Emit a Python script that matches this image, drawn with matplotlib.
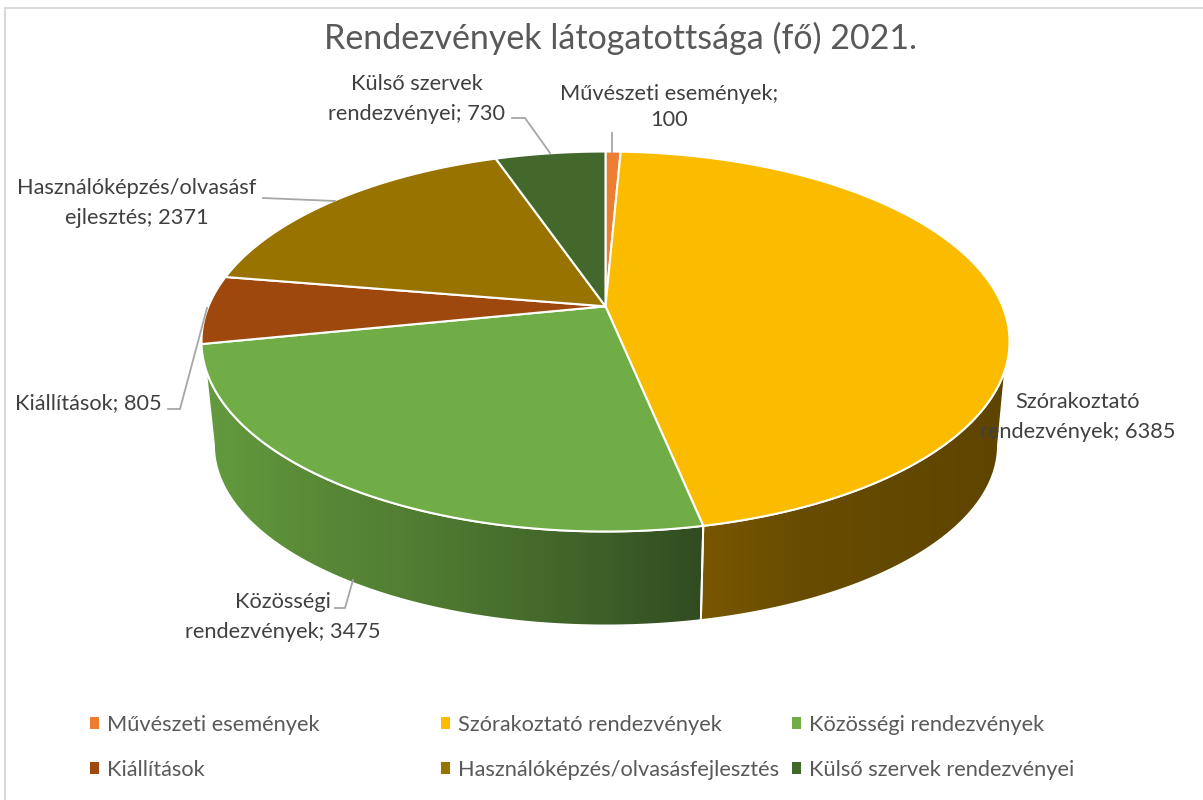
import numpy as np
import matplotlib
matplotlib.use("Agg")
import matplotlib.pyplot as plt
from matplotlib.patches import Polygon, Patch

plt.rcParams['font.family'] = ['Lato', 'DejaVu Sans']

categories = ["Művészeti események", "Szórakoztató rendezvények", "Közösségi rendezvények",
              "Kiállítások", "Használóképzés/olvasásfejlesztés", "Külső szervek rendezvényei"]
values = [100, 6385, 3475, 805, 2371, 730]
colors = ["#ED7D31", "#FBBC00", "#70AD47", "#9E480E", "#997300", "#43682B"]
title = "Rendezvények látogatottsága (fő) 2021."

W, H = 1203, 800
fig = plt.figure(figsize=(W / 100, H / 100), dpi=100, facecolor="white")
ax = fig.add_axes([0, 0, 1, 1])
ax.set_axis_off()

# perspective ellipse geometry (pixels)
TOP = dict(cx=605.5, cy=341.5, rx=404.0, ry=190.0)
BOT = dict(cx=606.0, cy=445.5, rx=392.0, ry=180.0)
T = 0.185  # shift of the apex inside the ellipse


def project(theta_deg, e):
    th = np.radians(theta_deg)
    c, s = np.cos(th), np.sin(th)
    d = 1 + T * c
    xn = s * np.sqrt(1 - T ** 2) / d
    yn = (c + T) / d
    return np.column_stack([e["cx"] + e["rx"] * xn, e["cy"] - e["ry"] * yn])


def arc(a, b, e):
    return project(np.linspace(a, b, max(int(abs(b - a) * 4), 2)), e)


apex = np.array([[TOP["cx"], TOP["cy"] - TOP["ry"] * T]])
bounds = np.concatenate([[0], np.cumsum(values)]) / sum(values) * 360.0


def theta_from_y(y):
    return np.degrees(np.arccos((y - T) / (1 - T * y)))


# visible front part of the side wall
up_r = float(theta_from_y(-0.143))
lo_r = float(theta_from_y(0.0))
up_l, lo_l = 360 - up_r, 360 - lo_r

side_stops = {
    1: ([705, 800, 1010], [(120, 87, 0), (104, 76, 0), (94, 68, 0)]),
    2: ([205, 300, 450, 600, 705], [(100, 155, 63), (90, 140, 56), (78, 120, 48), (62, 96, 40), (48, 75, 33)]),
}
for i, (xs, cols) in side_stops.items():
    a, b = bounds[i], bounds[i + 1]
    ua, ub = max(a, up_r), min(b, up_l)
    la = lo_r if a <= up_r else a
    lb = lo_l if b >= up_l else b
    if ub <= ua:
        continue
    pts = np.vstack([arc(ua, ub, TOP), arc(lb, la, BOT)])
    poly = Polygon(pts, closed=True, facecolor="none", edgecolor="none", transform=ax.transData)
    ax.add_patch(poly)
    xx = np.arange(xs[0] - 10, xs[-1] + 11)
    rgb = np.stack([np.interp(xx, xs, [c[k] for c in cols]) for k in range(3)], axis=-1)[None, :, :] / 255.0
    im = ax.imshow(rgb, extent=[xx[0], xx[-1], 640, 340], aspect="auto", interpolation="bilinear", zorder=1)
    im.set_clip_path(poly)
    ax.add_patch(Polygon(pts, closed=True, facecolor="none", edgecolor="white", lw=1.4, zorder=2))

for i, v in enumerate(values):
    pts = np.vstack([apex, arc(bounds[i], bounds[i + 1], TOP)])
    ax.add_patch(Polygon(pts, closed=True, facecolor=colors[i], edgecolor="white", lw=1.5,
                         joinstyle="round", zorder=3))

ax.set_xlim(0, W)
ax.set_ylim(H, 0)

# chart frame
ax.plot([5, 5, W], [H, 8, 8], color="#d9d9d9", lw=1.5, zorder=0, solid_joinstyle="miter")

ax.text(620.5, 38, title, fontsize=24.5, color="#595959", ha="center", va="center", zorder=6)

# data labels
label_lines = [
    ["Művészeti események;", str(values[0])],
    ["Szórakoztató", f"rendezvények; {values[1]}"],
    ["Közösségi", f"rendezvények; {values[2]}"],
    [f"Kiállítások; {values[3]}"],
    ["Használóképzés/olvasásf", f"ejlesztés; {values[4]}"],
    ["Külső szervek", f"rendezvényei; {values[5]}"],
]
label_pos = [(669, [93.5, 120.5]), (1078, [402, 431.5]), (283, [602, 631.5]),
             (88, [403.5]), (137, [188.5, 217.5]), (417, [84.5, 113.5])]
for lines, (x, ys) in zip(label_lines, label_pos):
    for s, y in zip(lines, ys):
        ax.text(x, y, s, fontsize=15.7, color="#404040", ha="center", va="center", zorder=6)

# leader lines
leaders = [
    ([612, 612], [133, 152]),
    ([512, 525, 550], [118, 118, 153]),
    ([263, 335], [198, 201]),
    ([168, 180, 207], [409, 409, 308]),
    ([335, 345, 353], [608, 608, 580]),
]
for xs, ys in leaders:
    ax.plot(xs, ys, color="#a6a6a6", lw=1.3, zorder=5, solid_joinstyle="miter")

# legend: three columns with two rows each
handles = [Patch(facecolor=c, edgecolor="none") for c in colors]
for col, x_left in enumerate([90, 441, 792]):
    idx = [col, col + 3]
    fig.legend([handles[j] for j in idx], [categories[j] for j in idx],
               loc="upper left", bbox_to_anchor=(x_left / W, 1 - 715 / H),
               bbox_transform=fig.transFigure, frameon=False, borderpad=0, borderaxespad=0,
               handlelength=0.42, handleheight=0.45, handletextpad=0.34, labelspacing=1.14,
               prop={"size": 15.7}, labelcolor="#595959")

fig.savefig("out.png", dpi=100, facecolor="white")
